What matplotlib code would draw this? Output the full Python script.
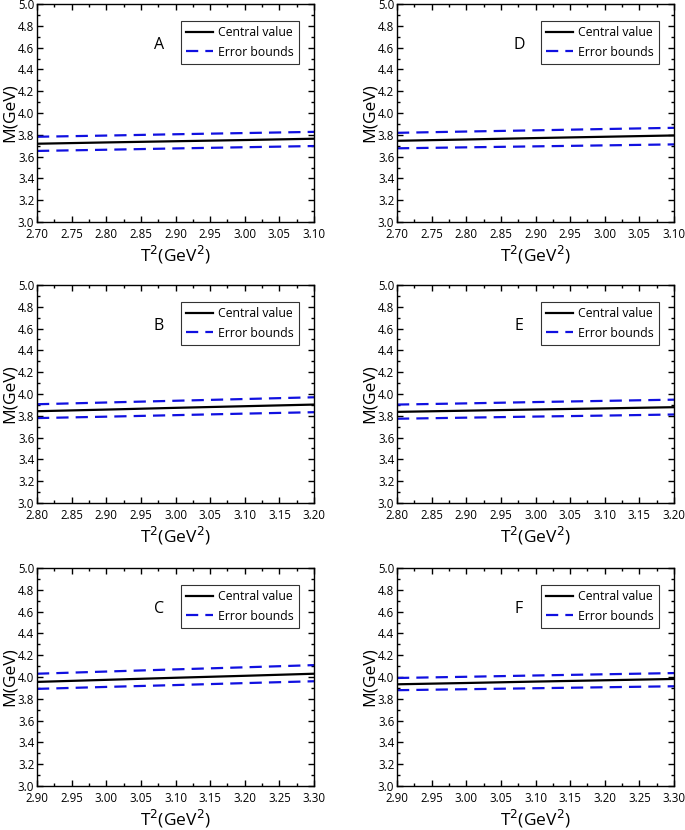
import matplotlib
matplotlib.use("Agg")
import matplotlib.pyplot as plt
from matplotlib.ticker import MultipleLocator, FormatStrFormatter

plt.rcParams['font.family'] = ['Open Sans', 'DejaVu Sans']

# Panel data (T^2 in GeV^2, M in GeV)
x_A = [2.70, 2.80, 2.90, 3.00, 3.10]
c_A = [3.718, 3.730, 3.741, 3.752, 3.764]
u_A = [3.782, 3.793, 3.805, 3.816, 3.827]
l_A = [3.652, 3.663, 3.675, 3.686, 3.697]

x_D = [2.70, 2.80, 2.90, 3.00, 3.10]
c_D = [3.745, 3.757, 3.770, 3.782, 3.794]
u_D = [3.818, 3.830, 3.841, 3.853, 3.864]
l_D = [3.676, 3.685, 3.694, 3.703, 3.712]

x_B = [2.80, 2.90, 3.00, 3.10, 3.20]
c_B = [3.842, 3.857, 3.873, 3.888, 3.903]
u_B = [3.906, 3.922, 3.938, 3.954, 3.970]
l_B = [3.779, 3.792, 3.806, 3.820, 3.833]

x_E = [2.80, 2.90, 3.00, 3.10, 3.20]
c_E = [3.836, 3.847, 3.858, 3.868, 3.879]
u_E = [3.903, 3.914, 3.926, 3.937, 3.948]
l_E = [3.773, 3.783, 3.793, 3.802, 3.812]

x_C = [2.90, 3.00, 3.10, 3.20, 3.30]
c_C = [3.955, 3.974, 3.993, 4.011, 4.030]
u_C = [4.030, 4.050, 4.070, 4.089, 4.109]
l_C = [3.891, 3.909, 3.926, 3.944, 3.961]

x_F = [2.90, 3.00, 3.10, 3.20, 3.30]
c_F = [3.933, 3.945, 3.958, 3.970, 3.982]
u_F = [3.991, 4.002, 4.014, 4.025, 4.036]
l_F = [3.879, 3.888, 3.897, 3.906, 3.915]

panels = [
    ("A", x_A, c_A, u_A, l_A, (2.70, 3.10)),
    ("D", x_D, c_D, u_D, l_D, (2.70, 3.10)),
    ("B", x_B, c_B, u_B, l_B, (2.80, 3.20)),
    ("E", x_E, c_E, u_E, l_E, (2.80, 3.20)),
    ("C", x_C, c_C, u_C, l_C, (2.90, 3.30)),
    ("F", x_F, c_F, u_F, l_F, (2.90, 3.30)),
]

W, H = 685, 830
fig = plt.figure(figsize=(W / 100, H / 100), dpi=100)

lefts = [37, 397]
tops = [4, 285, 568]
aw, ah = 277, 218

for i, (lab, x, c, u, l, xlim) in enumerate(panels):
    row, col = divmod(i, 2)
    left = lefts[col]
    top = tops[row]
    ax = fig.add_axes([left / W, (H - top - ah) / H, aw / W, ah / H])
    ax.plot(x, c, color='black', lw=1.6, label='Central value')
    ax.plot(x, u, color='#1010e0', lw=1.6, ls=(0, (5.5, 3.2)), label='Error bounds')
    ax.plot(x, l, color='#1010e0', lw=1.6, ls=(0, (5.5, 3.2)))
    ax.set_xlim(*xlim)
    ax.set_ylim(3.0, 5.0)
    ax.xaxis.set_major_locator(MultipleLocator(0.05))
    ax.xaxis.set_minor_locator(MultipleLocator(0.025))
    ax.yaxis.set_major_locator(MultipleLocator(0.2))
    ax.yaxis.set_minor_locator(MultipleLocator(0.1))
    ax.xaxis.set_major_formatter(FormatStrFormatter('%.2f'))
    ax.yaxis.set_major_formatter(FormatStrFormatter('%.1f'))
    ax.tick_params(which='both', direction='in', top=True, right=True,
                   width=1.0, labelsize=8.3)
    ax.tick_params(axis='y', which='major', pad=2)
    ax.tick_params(axis='x', which='major', pad=4.5)
    ax.tick_params(which='major', length=4)
    ax.tick_params(which='minor', length=2)
    for s in ax.spines.values():
        s.set_linewidth(1.0)
    ax.set_xlabel(r'T$^2$(GeV$^2$)', fontsize=12.5, labelpad=2)
    ax.set_ylabel('M(GeV)', fontsize=12.5, labelpad=0)
    ax.text(0.44, 0.81, lab, transform=ax.transAxes, fontsize=11.5,
            ha='center', va='center')
    leg = ax.legend(loc='upper right', bbox_to_anchor=(0.945, 0.922),
                    fontsize=8.8, frameon=True, fancybox=False,
                    edgecolor='black', handlelength=2.2, handletextpad=0.45,
                    borderpad=0.4, labelspacing=0.55, borderaxespad=0)
    leg.get_frame().set_linewidth(0.8)

fig.savefig('out.png', dpi=100)
